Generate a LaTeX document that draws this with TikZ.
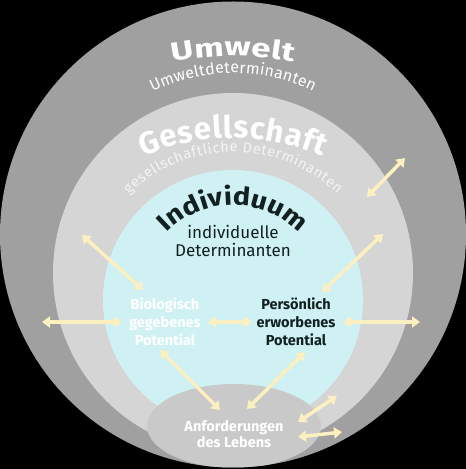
\documentclass[tikz,border=0pt]{standalone}
\usepackage{fontspec}
\setmainfont{Fira Sans}
\newfontfamily\widefont[FakeStretch=1.35]{Fira Sans}
\newfontfamily\semiwidefont[FakeStretch=1.15]{Fira Sans}
\usetikzlibrary{decorations.text,arrows.meta}
\definecolor{outergrey}{HTML}{A0A0A0}
\definecolor{midgrey}{HTML}{D5D5D5}
\definecolor{innercyan}{HTML}{CFF1F3}
\definecolor{lifegrey}{HTML}{C9C9C9}
\definecolor{arrowyellow}{HTML}{FCEFC0}
\definecolor{darktext}{HTML}{122020}
\definecolor{palewhite}{HTML}{F4F4F4}
\tikzset{
  link/.style={draw=arrowyellow, line width=3.5pt,
    {Triangle[width=11pt,length=8pt]}-{Triangle[width=11pt,length=8pt]}},
  boxtext/.style={align=center, inner sep=0pt, font=\fontsize{14.5}{18}\selectfont\bfseries},
  arctext/.style={decorate, decoration={text along path, text align=fit to path, #1}},
  arctextc/.style={decorate, decoration={text along path, text align=center, #1}},
}
\begin{document}
\begin{tikzpicture}[x=1pt,y=1pt]
\fill[black] (0,0) rectangle (466,469);
\useasboundingbox (0,0) rectangle (466,469);
% circles
\fill[outergrey] (233,234.5) circle[radius=233];
\fill[midgrey] (233,196) circle[radius=180];
\fill[innercyan] (233,169) circle[radius=130];
\begin{scope}
  \clip (233,234.5) circle[radius=233];
  \fill[lifegrey] (234,43) ellipse[x radius=87, y radius=42];
\end{scope}
% curved titles
\path[arctextc={text color=white, text={|\widefont\fontsize{26}{26}\selectfont\bfseries|Umwelt}}]
  ([shift={(115:300)}]233,113) arc[start angle=115, end angle=65, radius=300];
\path[arctext={text color=white, text={|\fontsize{16}{16}\selectfont|Umweltdeterminanten}}]
  ([shift={(116.5:180)}]233,216) arc[start angle=116.5, end angle=63.5, radius=180];
\path[arctext={text color=white, text={|\fontsize{31}{31}\selectfont\bfseries|Gesellschaft}}]
  ([shift={(113:230)}]233,101) arc[start angle=113, end angle=67, radius=230];
\path[arctext={text color=palewhite, text={|\fontsize{14.5}{14.5}\selectfont|gesellschaftliche Determinanten}}]
  ([shift={(134:150)}]233,167) arc[start angle=134, end angle=46, radius=150];
\path[arctextc={text color=darktext, text={|\semiwidefont\fontsize{25}{25}\selectfont\bfseries|Individuum}}]
  ([shift={(150:92)}]233,172) arc[start angle=150, end angle=30, radius=92];
% text nodes
\node[align=center, inner sep=0pt, text=darktext, font=\fontsize{17}{18}\selectfont] (indiv) at (233,228) {individuelle\\Determinanten};
\node[boxtext, text=white] (bio) at (165,147) {Biologisch\\gegebenes\\Potential};
\node[boxtext, text=darktext] (pers) at (296,147) {Persönlich\\erworbenes\\Potential};
\node[boxtext, text=white, font=\fontsize{14.5}{16.5}\selectfont\bfseries] (anf) at (234,35) {Anforderungen\\des Lebens};
% arrow end points
\coordinate (a1s) at (82,234);  \coordinate (a1e) at (143,179);
\coordinate (a2s) at (383,235); \coordinate (a2e) at (322,177);
\coordinate (a3s) at (405,311); \coordinate (a3e) at (367,272);
\coordinate (a4s) at (42,147);  \coordinate (a4e) at (122,147);
\coordinate (a5s) at (208,147); \coordinate (a5e) at (252,147);
\coordinate (a6s) at (343,147); \coordinate (a6e) at (420,147);
\coordinate (a7s) at (160,119); \coordinate (a7e) at (220,59);
\coordinate (a8s) at (305,117); \coordinate (a8e) at (247,60);
\coordinate (a9s) at (298,47);  \coordinate (a9e) at (337,73);
\coordinate (a10s) at (298,32); \coordinate (a10e) at (342,37);
% arrows
\foreach \i in {1,...,10} { \draw[link] (a\i s) -- (a\i e); }
\end{tikzpicture}
\end{document}
